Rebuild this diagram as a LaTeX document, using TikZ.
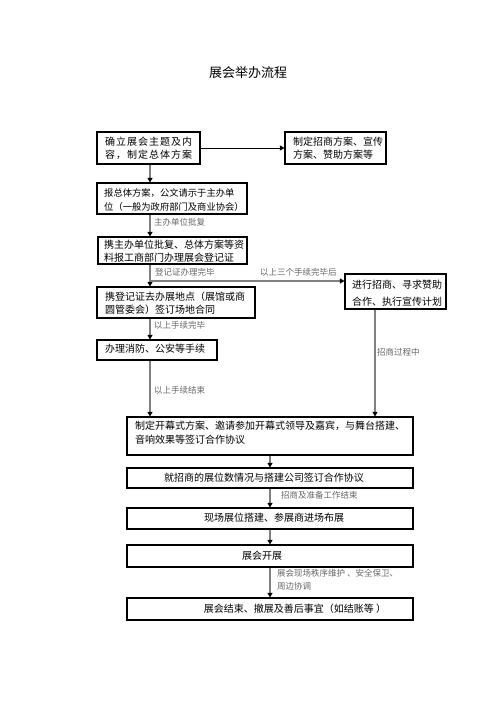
\documentclass[tikz,border=0pt]{standalone}
\usepackage{fontspec}
\newfontfamily\cjk{Noto Sans CJK SC}
\newfontfamily\cjkwide[LetterSpace=10]{Noto Sans CJK SC}
\usetikzlibrary{arrows.meta}
\begin{document}
\begin{tikzpicture}[x=1pt,y=-1pt,
  box/.style={draw=black, line width=1.1pt, inner sep=0pt, rectangle},
  txt/.style={font=\cjk\fontsize{10}{14}\selectfont, align=left, inner sep=0pt, anchor=west, text=black},
  ctxt/.style={font=\cjk\fontsize{10}{14}\selectfont, align=center, inner sep=0pt, text=black},
  lab/.style={font=\cjk\fontsize{8.5}{13}\selectfont, align=left, inner sep=0pt, anchor=west, text=black!60},
  conn/.style={draw=black!50, line width=2pt, -{Triangle[length=4.5pt,width=5pt,color=black]}},
  thin/.style={draw=black, line width=0.9pt, -{Triangle[length=4.5pt,width=5pt,color=black]}}]
\useasboundingbox (0,0) rectangle (496,702);

\node[font=\cjk\fontsize{13}{15}\selectfont, inner sep=0pt] (title) at (248,73) {展会举办流程};

% boxes
\node[box, minimum width=103pt, minimum height=32pt] (b1) at (148.5,148) {};
\node[box, minimum width=101pt, minimum height=32pt] (b2) at (335.5,148) {};
\node[box, minimum width=150pt, minimum height=31pt] (b3) at (172,198.5) {};
\node[box, minimum width=149pt, minimum height=27pt] (b4) at (172.5,250.5) {};
\node[box, minimum width=101pt, minimum height=35pt] (b5) at (395.5,291.5) {};
\node[box, minimum width=158pt, minimum height=31pt] (b6) at (176,302.5) {};
\node[box, minimum width=120pt, minimum height=20pt] (b7) at (157,350) {};
\node[box, minimum width=286pt, minimum height=38pt] (b8) at (270,436) {};
\node[box, minimum width=286pt, minimum height=20pt] (b9) at (270,478) {};
\node[box, minimum width=286pt, minimum height=21pt] (b10) at (270,518.5) {};
\node[box, minimum width=286pt, minimum height=22pt] (b11) at (270,556) {};
\node[box, minimum width=286pt, minimum height=22pt] (b12) at (270,609) {};

% box texts
\node[txt, font=\cjkwide\fontsize{10}{13}\selectfont] (t1) at (105,148) {确立展会主题及内\\容，制定总体方案};
\node[txt, font=\cjk\fontsize{10}{12.5}\selectfont] (t2) at (293,148) {制定招商方案、宣传\\方案、赞助方案等};
\node[txt, font=\cjk\fontsize{9.3}{14}\selectfont] (t3) at (104,200) {报总体方案，公文请示于主办单\\位（一般为政府部门及商业协会）};
\node[txt, font=\cjk\fontsize{10}{13}\selectfont] (t4) at (104,251.5) {携主办单位批复、总体方案等资\\料报工商部门办理展会登记证};
\node[txt, font=\cjk\fontsize{10}{17}\selectfont] (t5) at (352,293) {进行招商、寻求赞助\\合作、执行宣传计划};
\node[txt, font=\cjk\fontsize{10}{12.5}\selectfont] (t6) at (105,303) {携登记证去办展地点（展馆或商\\圆管委会）签订场地合同};
\node[txt] (t7) at (105,349) {办理消防、公安等手续};
\node[txt] (t8) at (135,433) {制定开幕式方案、邀请参加开幕式领导及嘉宾，与舞台搭建、\\音响效果等签订合作协议};
\node[ctxt] (t9) at (264,478) {就招商的展位数情况与搭建公司签订合作协议};
\node[ctxt] (t10) at (274,518) {现场展位搭建、参展商进场布展};
\node[ctxt] (t11) at (262,556) {展会开展};
\node[ctxt] (t12) at (295,609) {展会结束、撤展及善后事宜（如结账等 ）};

% connector helpers
\coordinate (col) at (150,0);
\coordinate (rcol) at (375,0);
\coordinate (br) at (150,281);

% connectors
\draw[thin] (b1.east) -- (b2.west);
\draw[conn] (b1.south -| col) -- (b3.north -| col);
\draw[conn] (b3.south -| col) -- (b4.north -| col);
\draw[conn] (b4.south -| col) -- (b6.north -| col);
\draw[conn] (br) -- (br -| b5.west);
\draw[conn] (b6.south -| col) -- (b7.north -| col);
\draw[conn] (b7.south -| col) -- (b8.north -| col);
\draw[conn] (b5.south -| rcol) -- (b8.north -| rcol);
\draw[conn] (b8.south) -- (b9.north);
\draw[conn] (b9.south) -- (b10.north);
\draw[conn] (b10.south) -- (b11.north);
\draw[conn] (b11.south) -- (b12.north);

% labels
\node[lab] (l1) at (154,222) {主办单位批复};
\node[lab] (l2) at (155,272.5) {登记证办理完毕};
\node[lab] (l3) at (260,272.5) {以上三个手续完毕后};
\node[lab] (l4) at (154,325) {以上手续完毕};
\node[lab] (l5) at (154,390) {以上手续结束};
\node[lab] (l6) at (377,352) {招商过程中};
\node[lab] (l7) at (281,495) {招商及准备工作结束};
\node[lab] (l8) at (277,579.5) {展会现场秩序维护 、安全保卫、\\周边协调};
\end{tikzpicture}
\end{document}
